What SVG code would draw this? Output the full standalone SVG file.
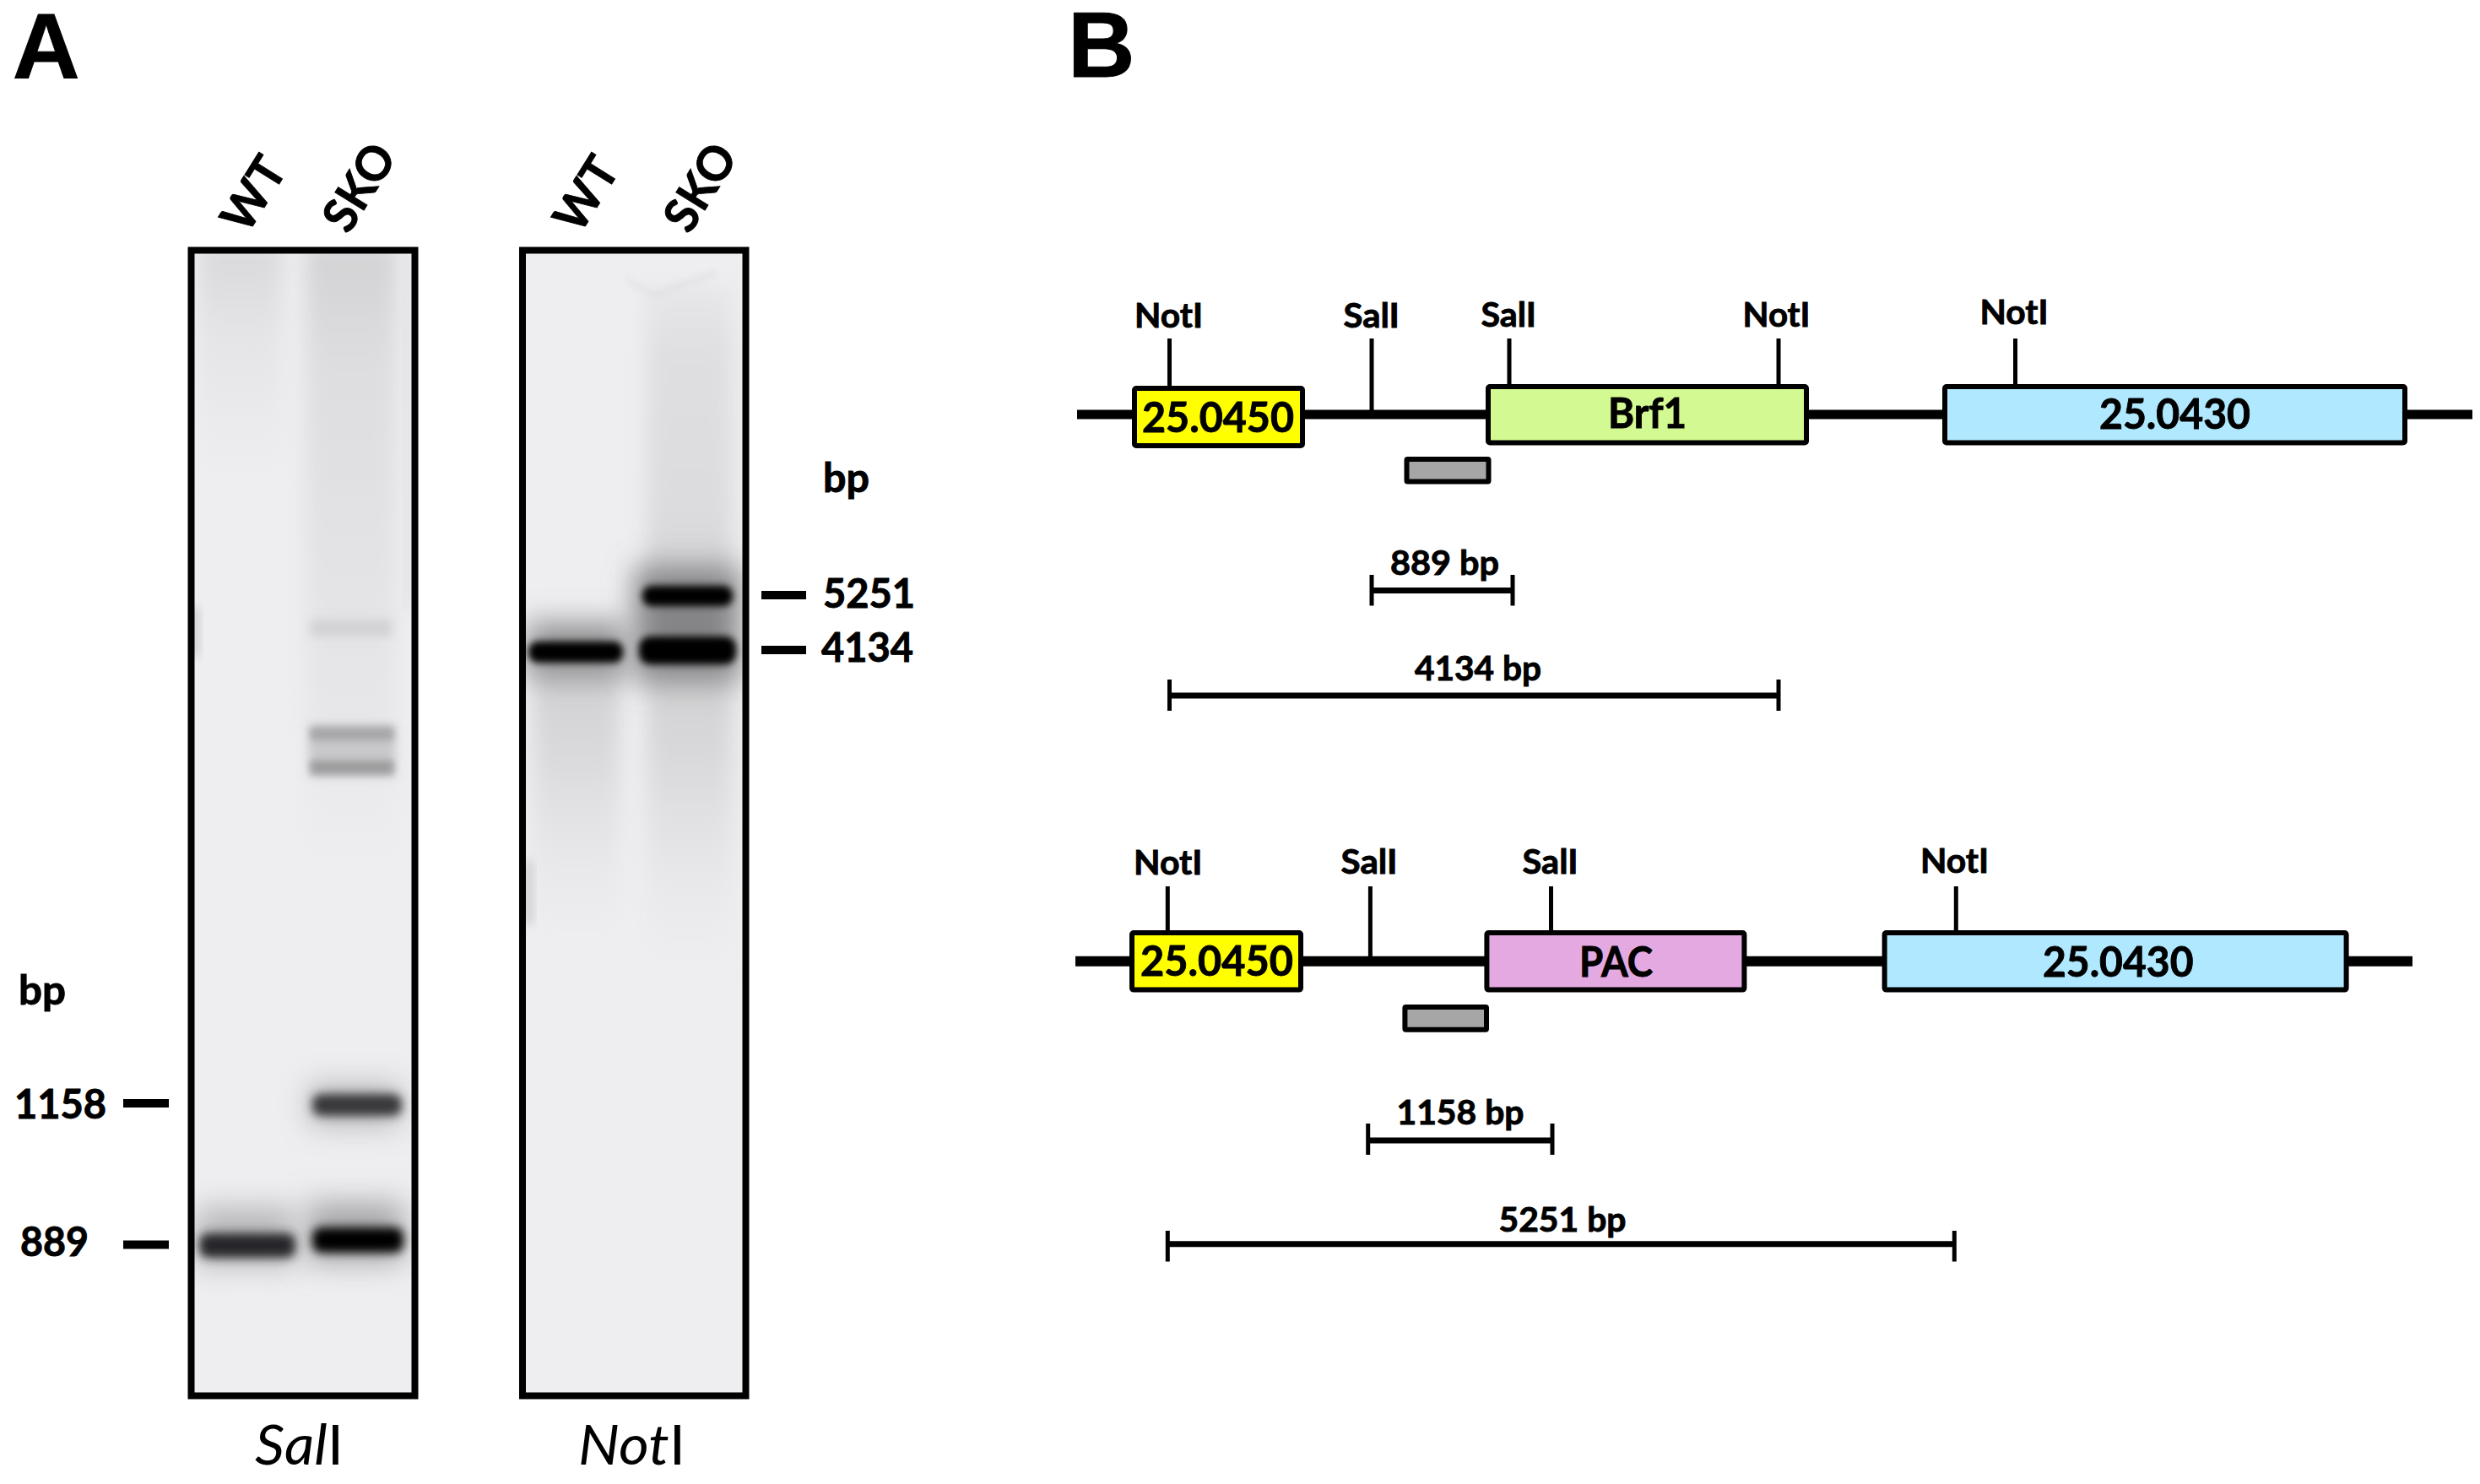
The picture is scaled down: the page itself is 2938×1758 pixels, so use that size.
<svg xmlns="http://www.w3.org/2000/svg" width="2938" height="1758" viewBox="0 0 2938 1758">
<style>
text{font-family:Lato,"Liberation Sans",sans-serif;font-weight:700;fill:#000;stroke:#000;stroke-width:.9px}
.panel{font-family:"Liberation Sans",Arial,sans-serif;font-size:110px;stroke-width:1px}
.lbl{font-size:47px}
.lane{font-size:56px}
.site{font-size:41px}
.size{font-size:40px}
.gene{font-size:49px}
.enz{font-size:66px;font-weight:400;stroke-width:0}
.enz tspan.i{font-style:italic}
.frame{fill:none;stroke:#000;stroke-width:8}
.box{stroke:#000;stroke-width:6}
.back{stroke:#000;stroke-width:11;fill:none}
.tick{stroke:#000;stroke-width:5;fill:none}
.bar{stroke:#000;stroke-width:7;fill:none}
.mark{stroke:#000;stroke-width:10;fill:none}
.bg{fill:#eeedf0}
</style>
<defs>
<filter id="b3" x="-30%" y="-150%" width="160%" height="400%"><feGaussianBlur stdDeviation="4"/></filter>
<filter id="b5" x="-30%" y="-200%" width="160%" height="500%"><feGaussianBlur stdDeviation="6"/></filter>
<filter id="b12" x="-40%" y="-30%" width="180%" height="160%"><feGaussianBlur stdDeviation="12"/></filter>
<filter id="b16" x="-40%" y="-200%" width="180%" height="500%"><feGaussianBlur stdDeviation="17"/></filter>
<linearGradient id="topWT" x1="0" y1="0" x2="0" y2="1"><stop offset="0" stop-color="#d8d8da"/><stop offset="0.35" stop-color="#e4e4e6"/><stop offset="1" stop-color="#e6e6e8" stop-opacity="0"/></linearGradient>
<linearGradient id="topSKO" x1="0" y1="0" x2="0" y2="1"><stop offset="0" stop-color="#d2d2d4"/><stop offset="0.2" stop-color="#dedee0"/><stop offset="0.7" stop-color="#e6e6e8"/><stop offset="1" stop-color="#e6e6e8" stop-opacity="0"/></linearGradient>
<linearGradient id="topSKO2" x1="0" y1="0" x2="0" y2="1"><stop offset="0" stop-color="#e2e2e4" stop-opacity=".6"/><stop offset="0.2" stop-color="#dfdfe1"/><stop offset="0.7" stop-color="#dcdcde"/><stop offset="1" stop-color="#cfcfd1"/></linearGradient>
<linearGradient id="smear" x1="0" y1="0" x2="0" y2="1"><stop offset="0" stop-color="#cfcfd1"/><stop offset="0.35" stop-color="#dadadc"/><stop offset="1" stop-color="#e6e6e8" stop-opacity="0"/></linearGradient>
<clipPath id="c1"><rect x="230" y="300" width="258" height="1350"/></clipPath>
<clipPath id="c2"><rect x="623" y="300" width="257" height="1350"/></clipPath>
</defs>
<rect width="2938" height="1758" fill="#fff"/>

<text class="panel" x="15" y="92">A</text>
<text class="panel" x="1265" y="90.7">B</text>

<g id="gel-sali">
<rect class="bg" x="226" y="296" width="266" height="1358"/>
<g clip-path="url(#c1)">
<rect x="235" y="290" width="100" height="280" fill="url(#topWT)" filter="url(#b12)"/>
<rect x="362" y="290" width="108" height="740" fill="url(#topSKO)" filter="url(#b12)"/>
<rect x="482" y="300" width="12" height="420" fill="#dddddf" filter="url(#b12)"/>
<rect x="222" y="718" width="14" height="60" fill="#cfcfd1" filter="url(#b5)"/>
<rect x="368" y="734" width="96" height="20" fill="#d2d2d4" filter="url(#b5)"/>
<rect x="366" y="858" width="102" height="62" fill="#c8c8ca" filter="url(#b5)"/>
<rect x="368" y="862" width="98" height="15" fill="#a6a6a8" filter="url(#b3)"/>
<rect x="368" y="901" width="98" height="16" fill="#9c9c9e" filter="url(#b3)"/>
<rect x="366" y="1284" width="108" height="50" fill="#a8a8aa" filter="url(#b16)" opacity=".75"/>
<rect x="370" y="1296" width="106" height="26" rx="10" fill="#37373a" filter="url(#b5)"/>
<rect x="232" y="1430" width="118" height="70" fill="#b8b8ba" filter="url(#b16)"/>
<rect x="364" y="1424" width="114" height="72" fill="#a8a8aa" filter="url(#b16)"/>
<rect x="236" y="1461" width="114" height="29" rx="10" fill="#28282a" filter="url(#b5)"/>
<rect x="370" y="1454" width="108" height="30" rx="10" fill="#000" filter="url(#b5)"/>
</g>
<rect class="frame" x="226.500" y="296.500" width="265" height="1357"/>
</g>

<g id="gel-noti">
<rect class="bg" x="619" y="296" width="265" height="1358"/>
<g clip-path="url(#c2)">
<rect x="766" y="340" width="102" height="380" fill="url(#topSKO2)" filter="url(#b12)"/>
<path d="M743 331L775 350L849 323" fill="none" stroke="#d8d8da" stroke-width="3" filter="url(#b3)"/>
<rect x="632" y="780" width="102" height="340" fill="url(#smear)" filter="url(#b12)"/>
<rect x="766" y="780" width="102" height="370" fill="url(#smear)" filter="url(#b12)"/>
<rect x="619" y="1020" width="13" height="75" fill="#d2d2d4" filter="url(#b5)"/>
<rect x="624" y="738" width="118" height="64" fill="#8e8e90" filter="url(#b16)"/>
<rect x="752" y="672" width="124" height="135" fill="#858587" filter="url(#b16)"/>
<rect x="626" y="760" width="112" height="25" rx="11" fill="#000" filter="url(#b3)"/>
<rect x="757" y="754" width="115" height="33" rx="13" fill="#000" filter="url(#b3)"/>
<rect x="761" y="694" width="107" height="24" rx="11" fill="#000" filter="url(#b3)"/>
</g>
<rect class="frame" x="619" y="296.500" width="264.500" height="1357"/>
</g>

<g id="gel-labels">
<text class="lane" transform="translate(317 240) rotate(-58)" text-anchor="middle" textLength="92" lengthAdjust="spacingAndGlyphs">WT</text>
<text class="lane" transform="translate(442 232) rotate(-58)" text-anchor="middle" textLength="110" lengthAdjust="spacingAndGlyphs">SKO</text>
<text class="lane" transform="translate(711 240) rotate(-58)" text-anchor="middle" textLength="92" lengthAdjust="spacingAndGlyphs">WT</text>
<text class="lane" transform="translate(846 232) rotate(-58)" text-anchor="middle" textLength="110" lengthAdjust="spacingAndGlyphs">SKO</text>
<text class="lbl" x="975" y="583" textLength="55" lengthAdjust="spacingAndGlyphs">bp</text>
<text class="lbl" x="975" y="720" textLength="109" lengthAdjust="spacingAndGlyphs">5251</text>
<text class="lbl" x="973" y="784" textLength="109" lengthAdjust="spacingAndGlyphs">4134</text>
<text class="lbl" x="22" y="1190" textLength="56" lengthAdjust="spacingAndGlyphs">bp</text>
<text class="lbl" x="17" y="1325" textLength="109" lengthAdjust="spacingAndGlyphs">1158</text>
<text class="lbl" x="24" y="1488" textLength="81" lengthAdjust="spacingAndGlyphs">889</text>
<text class="enz" x="302" y="1735" textLength="105" lengthAdjust="spacingAndGlyphs"><tspan class="i">Sal</tspan>I</text>
<text class="enz" x="685" y="1735" textLength="127" lengthAdjust="spacingAndGlyphs"><tspan class="i">Not</tspan>I</text>
</g>

<g id="connectors">
<path class="mark" d="M902 705H955M902 770H955M146 1307H200M146 1474.500H200"/>
<path class="back" d="M1276 491H2929"/>
<path class="back" style="stroke-width:12" d="M1274 1138.700H2858"/>
<path class="tick" d="M1385.500 401V457M1625 401V491M1788 401V455M2107 401V455M2387.500 401V455"/>
<path class="tick" d="M1383.300 1050V1102M1623.400 1050V1133M1837.500 1050V1102M2317.300 1050V1102"/>
<path class="bar" d="M1625 699.600H1792M1385.500 824H2107M1620.700 1351H1839M1383.300 1473.800H2315.300"/>
<path class="tick" d="M1625 681V717.500M1792 681V717.500M1385.500 805V842M2107 805V842M1620.700 1331V1368M1839 1331V1368M1383.300 1458V1494.500M2315.300 1458V1494.500"/>
</g>

<g id="wt-25-0450"><rect class="box" x="1344" y="460" width="199" height="68" rx="2" fill="#ffff00"/><text class="gene" x="1353" y="512" textLength="180" lengthAdjust="spacingAndGlyphs">25.0450</text></g>
<g id="wt-brf1"><rect class="box" x="1763" y="458" width="377" height="66.500" rx="2" fill="#d2f992"/><text class="gene" x="1905" y="507" textLength="93" lengthAdjust="spacingAndGlyphs">Brf1</text></g>
<g id="wt-25-0430"><rect class="box" x="2304" y="458" width="545" height="66.500" rx="2" fill="#b0e9ff"/><text class="gene" x="2487" y="507.500" textLength="179" lengthAdjust="spacingAndGlyphs">25.0430</text></g>
<g id="wt-probe"><rect class="box" x="1666.500" y="544" width="97" height="26.500" rx="1" fill="#a6a6a6"/></g>
<g id="wt-sites">
<text class="site" x="1344" y="388" textLength="81" lengthAdjust="spacingAndGlyphs">NotI</text>
<text class="site" x="1591.500" y="388" textLength="66.500" lengthAdjust="spacingAndGlyphs">SalI</text>
<text class="site" x="1754.500" y="387" textLength="65.500" lengthAdjust="spacingAndGlyphs">SalI</text>
<text class="site" x="2064.500" y="386.500" textLength="80" lengthAdjust="spacingAndGlyphs">NotI</text>
<text class="site" x="2345.500" y="383.600" textLength="81" lengthAdjust="spacingAndGlyphs">NotI</text>
<text class="size" x="1647" y="681" textLength="129" lengthAdjust="spacingAndGlyphs">889 bp</text>
<text class="size" x="1676" y="805.700" textLength="150" lengthAdjust="spacingAndGlyphs">4134 bp</text>
</g>

<g id="ko-25-0450"><rect class="box" x="1341" y="1105" width="200" height="67.600" rx="2" fill="#ffff00"/><text class="gene" x="1351" y="1155.600" textLength="181" lengthAdjust="spacingAndGlyphs">25.0450</text></g>
<g id="ko-pac"><rect class="box" x="1761.400" y="1105" width="305" height="67.600" rx="2" fill="#e4a9e0"/><text class="gene" x="1871" y="1157" textLength="87" lengthAdjust="spacingAndGlyphs">PAC</text></g>
<g id="ko-25-0430"><rect class="box" x="2232.600" y="1105" width="547" height="67.600" rx="2" fill="#b0e9ff"/><text class="gene" x="2420" y="1157" textLength="178.500" lengthAdjust="spacingAndGlyphs">25.0430</text></g>
<g id="ko-probe"><rect class="box" x="1664.400" y="1193" width="96.600" height="26.800" rx="1" fill="#a6a6a6"/></g>
<g id="ko-sites">
<text class="site" x="1343" y="1035.800" textLength="81.500" lengthAdjust="spacingAndGlyphs">NotI</text>
<text class="site" x="1588.500" y="1034.800" textLength="67" lengthAdjust="spacingAndGlyphs">SalI</text>
<text class="site" x="1803.500" y="1035" textLength="66" lengthAdjust="spacingAndGlyphs">SalI</text>
<text class="site" x="2275" y="1034" textLength="81" lengthAdjust="spacingAndGlyphs">NotI</text>
<text class="size" x="1654.500" y="1332" textLength="151" lengthAdjust="spacingAndGlyphs">1158 bp</text>
<text class="size" x="1775.500" y="1458.700" textLength="151" lengthAdjust="spacingAndGlyphs">5251 bp</text>
</g>
</svg>
